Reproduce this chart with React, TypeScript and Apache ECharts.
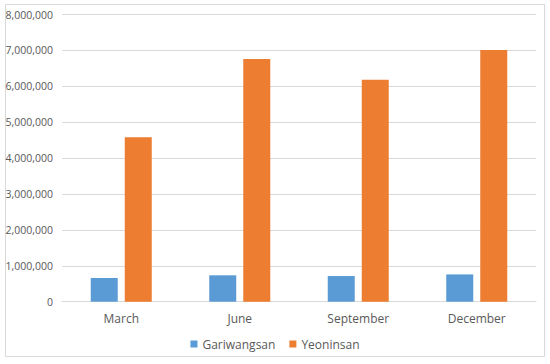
import React, { useEffect, useRef } from "react";
import * as echarts from "echarts";

const categories = ["March", "June", "September", "December"];
const gariwangsan = [660000, 735000, 715000, 760000];
const yeoninsan = [4580000, 6760000, 6180000, 7010000];
const seriesNames = ["Gariwangsan", "Yeoninsan"];

const FONT = "'Open Sans', 'Noto Sans', sans-serif";

export default function App() {
  const ref = useRef<HTMLDivElement>(null);
  useEffect(() => {
    if (!ref.current) return;
    const chart = echarts.init(ref.current, undefined, { renderer: "svg" });
    chart.setOption({
      animation: false,
      backgroundColor: "#ffffff",
      graphic: [
        {
          type: "rect",
          shape: { x: 5.5, y: 4.5, width: 539, height: 352 },
          style: { fill: "none", stroke: "#d9d9d9", lineWidth: 1 },
          silent: true,
        },
      ],
      grid: { left: 62, right: 14, top: 14.5, bottom: 62.3 },
      legend: {
        data: seriesNames,
        top: 333,
        left: "center",
        icon: "rect",
        itemWidth: 7,
        itemHeight: 7,
        itemGap: 14,
        textStyle: { color: "#595959", fontSize: 12, fontFamily: FONT },
      },
      xAxis: {
        type: "category",
        data: categories,
        axisLine: { lineStyle: { color: "#d9d9d9" } },
        axisTick: { show: false },
        axisLabel: { color: "#595959", fontSize: 12, fontFamily: FONT, margin: 11 },
      },
      yAxis: {
        type: "value",
        min: 0,
        max: 8000000,
        interval: 1000000,
        axisLine: { show: false },
        axisTick: { show: false },
        splitLine: { lineStyle: { color: "#d9d9d9" } },
        axisLabel: {
          color: "#595959",
          fontSize: 10.5,
          fontFamily: FONT,
          margin: 9,
          formatter: (v: number) => v.toLocaleString("en-US"),
        },
      },
      series: [
        {
          name: seriesNames[0],
          type: "bar",
          data: gariwangsan,
          barWidth: 27,
          barGap: "26%",
          itemStyle: { color: "#5b9bd5" },
        },
        {
          name: seriesNames[1],
          type: "bar",
          data: yeoninsan,
          barWidth: 27,
          barGap: "26%",
          itemStyle: { color: "#ed7d31" },
        },
      ],
    });
    return () => chart.dispose();
  }, []);
  return (
    <div
      ref={ref}
      style={{ position: "fixed", left: 0, top: 0, width: 550, height: 364 }}
    />
  );
}
